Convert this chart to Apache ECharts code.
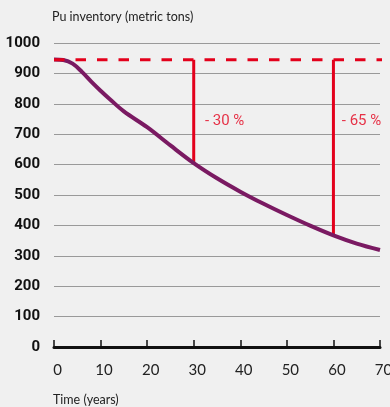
<!DOCTYPE html>
<html>
<head>
<meta charset="utf-8">
<script src="https://cdn.jsdelivr.net/npm/echarts@6/dist/echarts.min.js"></script>
<style>
  html, body { margin: 0; padding: 0; background: #f0f0f0; }
  #chart { width: 390px; height: 407px; }
</style>
</head>
<body>
<div id="chart"></div>
<script>
// Plutonium inventory over time
const years = [0, 2, 4, 6, 8, 10, 12, 15, 20, 25, 30, 35, 40, 45, 50, 55, 60, 65, 70];
const inventory = [946, 944, 932, 905, 873, 843, 815, 775, 723, 663, 605, 555, 511, 471, 434, 399, 367, 340, 319];

// Starting level and the two reduction markers
const startLevel = 945;
const dropYears = [30, 60];
const dropValues = [605, 367];
const dropLabels = ['- 30 %', '- 65 %'];
const dropLabelPos = [[32.4, 743], [61.8, 743]];

const xTicks = { min: 0, max: 70, interval: 10 };
const yTicks = { min: 0, max: 1000, interval: 100 };

const red = '#e3001b';
const purple = '#7a1a62';
const narrow = 'Roboto, sans-serif';

const curve = years.map((y, i) => [y, inventory[i]]);

const series = [
  {
    type: 'line',
    data: curve,
    smooth: 0.35,
    showSymbol: false,
    lineStyle: { color: purple, width: 4 },
    z: 3
  },
  {
    type: 'line',
    data: [[0, startLevel], [73, startLevel]],
    clip: false,
    showSymbol: false,
    lineStyle: { color: red, width: 3, type: [10.5, 11] },
    z: 4
  }
];

dropYears.forEach((yr, i) => {
  series.push({
    type: 'line',
    data: [[yr, startLevel], [yr, dropValues[i]]],
    showSymbol: false,
    lineStyle: { color: red, width: 3 },
    z: 2
  });
});

series.push({
  type: 'scatter',
  symbolSize: 0,
  data: dropLabelPos.map((p, i) => ({ value: p, name: dropLabels[i] })),
  label: {
    show: true,
    position: 'right',
    distance: 0,
    formatter: p => p.name,
    color: red,
    fontFamily: narrow,
    fontSize: 15
  },
  z: 5
});

const chart = echarts.init(document.getElementById('chart'));
chart.setOption({
  backgroundColor: '#f0f0f0',
  animation: false,
  title: [
    {
      text: 'Pu inventory (metric tons)',
      left: 52, top: 10, padding: 0,
      textStyle: { fontFamily: 'Lato, sans-serif', fontWeight: 'normal', fontSize: 12.5, color: '#222' }
    },
    {
      text: 'Time (years)',
      left: 53, top: 393, padding: 0,
      textStyle: { fontFamily: 'Lato, sans-serif', fontWeight: 'normal', fontSize: 12.5, color: '#222' }
    }
  ],
  grid: { left: 54, right: 10, top: 43, bottom: 60, outerBoundsMode: 'none' },
  xAxis: {
    type: 'value',
    min: xTicks.min, max: xTicks.max, interval: xTicks.interval,
    axisLine: { show: true, lineStyle: { color: '#111', width: 3 } },
    axisTick: { show: true, inside: true, length: 7, lineStyle: { color: '#111', width: 1.5 } },
    axisLabel: {
      margin: 16,
      padding: [0, 0, 0, 7],
      color: '#222',
      fontFamily: 'Lato, sans-serif',
      fontSize: 15,
      hideOverlap: false
    },
    splitLine: { show: false }
  },
  yAxis: {
    type: 'value',
    min: yTicks.min, max: yTicks.max, interval: yTicks.interval,
    axisLine: { show: false },
    axisTick: { show: false },
    axisLabel: {
      margin: 14,
      color: '#111',
      fontWeight: 'bold',
      fontFamily: narrow,
      fontSize: 15,
      formatter: v => String(v)
    },
    splitLine: { lineStyle: { color: '#999', width: 1 } }
  },
  series: series
});
</script>
</body>
</html>
